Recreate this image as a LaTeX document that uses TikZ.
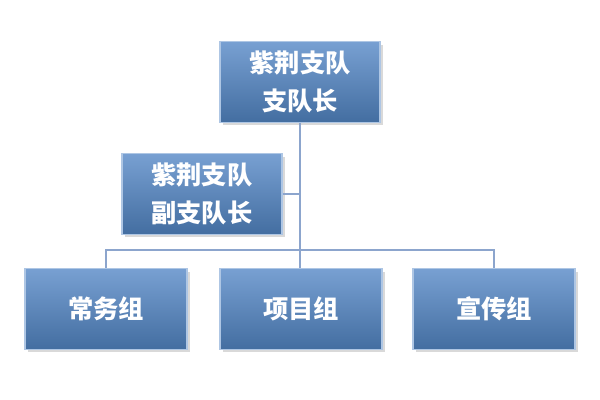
\documentclass[tikz,border=0pt]{standalone}
\usepackage{fontspec}
\newfontfamily\cjk{Noto Sans CJK SC}
\definecolor{boxblue}{RGB}{79,129,189}
\definecolor{boxtop}{RGB}{120,160,210}
\definecolor{linkblue}{RGB}{140,165,205}
\usetikzlibrary{shadows}
\tikzset{unit/.style={draw=boxtop!60!white, line width=1pt, top color=boxtop, bottom color=boxblue!85!black,
  minimum width=4cm, minimum height=2.02cm, align=center, text=white,
  font=\cjk\bfseries\fontsize{18}{27}\selectfont, drop shadow={opacity=0.3}}}
\begin{document}
\begin{tikzpicture}
        \useasboundingbox (0,0) rectangle (15,10);
        \draw[linkblue, line width=2pt] (7.5,7) -- (7.5,3.75) coordinate (bus);
        \node[unit] (head) at (7.5,7.95) {紫荆支队\\支队长} ;
        \node[unit] (deputy) at (5.05,5.15) {紫荆支队\\副支队长} ;
        \node[unit, minimum width=4.05cm] (g1) at (2.65,2.275) {常务组} ;
        \node[unit, minimum width=4.05cm] (g2) at (7.525,2.275) {项目组} ;
        \node[unit, minimum width=4.05cm] (g3) at (12.35,2.275) {宣传组} ;

        \draw[linkblue, line width=2pt] (head) -- (bus);
        \draw[linkblue, line width=2pt] (deputy.east) -- (deputy.east -| head);
        \draw[linkblue, line width=2pt] (g1.north) |- (bus) -| (g3.north);
        \draw[linkblue, line width=2pt] (bus) -- (g2.north -| bus);
\end{tikzpicture}
\end{document}
